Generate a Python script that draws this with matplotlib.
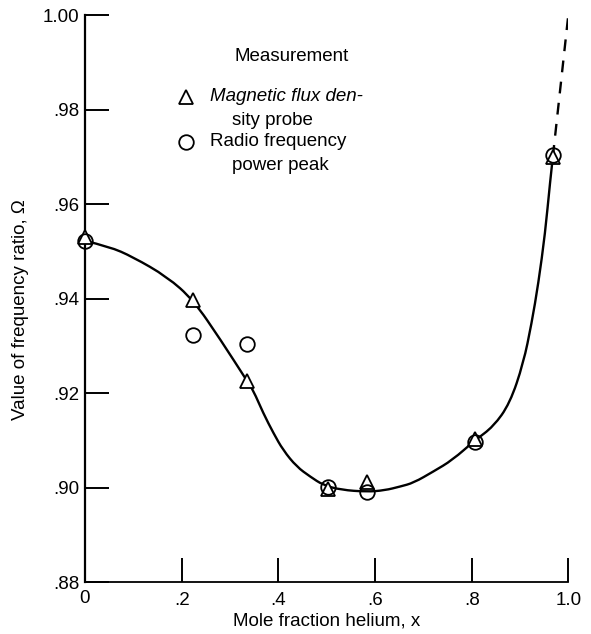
import matplotlib
matplotlib.use("Agg")
import matplotlib.pyplot as plt
from matplotlib.path import Path
from matplotlib.patches import PathPatch

plt.rcParams['font.family'] = ['Liberation Sans', 'DejaVu Sans']

# Measured points
x_tri = [0.0, 0.224, 0.335, 0.503, 0.583, 0.807, 0.968]
y_tri = [0.9530, 0.9397, 0.9226, 0.8997, 0.9012, 0.9102, 0.9700]
x_circ = [0.0, 0.223, 0.3345, 0.503, 0.583, 0.807, 0.968]
y_circ = [0.9522, 0.9323, 0.9304, 0.9002, 0.8991, 0.9097, 0.9704]

# Faired curve
x_curve = [0.0, 0.05, 0.099, 0.17, 0.224, 0.281, 0.335, 0.348, 0.369, 0.390,
           0.410, 0.438, 0.466, 0.493, 0.53, 0.583, 0.62, 0.652, 0.68, 0.721,
           0.76, 0.807, 0.845, 0.879, 0.907, 0.924, 0.938, 0.952, 0.962, 0.968]
y_curve = [0.9522, 0.9510, 0.9488, 0.9446, 0.9397, 0.9312, 0.9226, 0.9206, 0.9157, 0.9115,
           0.9079, 0.9044, 0.9023, 0.9005, 0.8995, 0.8991, 0.8994, 0.9002, 0.9010, 0.9034,
           0.9058, 0.9100, 0.9129, 0.9178, 0.9263, 0.9347, 0.9432, 0.9538, 0.9644, 0.9700]
# Extrapolated (dashed) portion
x_dash = [0.968, 1.0]
y_dash = [0.9700, 1.0]

x_ticks = [0.2, 0.4, 0.6, 0.8, 1.0]
x_ticklabels = ['.2', '.4', '.6', '.8', '1.0']
y_ticks = [0.88, 0.90, 0.92, 0.94, 0.96, 0.98, 1.00]
y_ticklabels = ['.88', '.90', '.92', '.94', '.96', '.98', '1.00']

FS = 13.5

fig = plt.figure(figsize=(5.91, 6.34), dpi=100)
ax = fig.add_axes([0.1438, 0.0820, 0.8178, 0.8943])

# smooth curve: quadratic Bezier path using the read points as control points
pts = list(zip(x_curve, y_curve))
verts = [pts[0]]
codes = [Path.MOVETO]
for i in range(1, len(pts) - 2):
    mid = ((pts[i][0] + pts[i + 1][0]) / 2, (pts[i][1] + pts[i + 1][1]) / 2)
    verts += [pts[i], mid]
    codes += [Path.CURVE3, Path.CURVE3]
verts += [pts[-2], pts[-1]]
codes += [Path.CURVE3, Path.CURVE3]
ax.add_patch(PathPatch(Path(verts, codes), fill=False, edgecolor='black',
                       lw=1.7, capstyle='round', joinstyle='round'))

ax.plot(x_dash, y_dash, color='black', lw=1.7, dashes=(5, 4))
ax.plot(x_tri, y_tri, linestyle='none', marker='^', ms=10, mfc='white',
        mec='black', mew=1.3, zorder=3, clip_on=False)
ax.plot(x_circ, y_circ, linestyle='none', marker='o', ms=10.5, mfc='none',
        mec='black', mew=1.3, zorder=4, clip_on=False)

ax.set_xlim(0, 1.0)
ax.set_ylim(0.88, 1.00)
ax.spines['top'].set_visible(False)
ax.spines['right'].set_visible(False)
ax.spines['left'].set_linewidth(1.6)
ax.spines['bottom'].set_linewidth(1.3)

ax.set_xticks(x_ticks)
ax.set_xticklabels(x_ticklabels)
ax.set_yticks(y_ticks)
ax.set_yticklabels(y_ticklabels)
ax.tick_params(axis='both', direction='in', length=17.5, width=1.4, labelsize=FS)
ax.tick_params(axis='x', pad=7)
ax.tick_params(axis='y', pad=4)

# "0" label at origin on x axis
ax.text(0.0, -0.014, '0', transform=ax.get_xaxis_transform(), ha='center',
        va='top', fontsize=FS)

ax.set_xlabel('Mole fraction helium, x', fontsize=FS, labelpad=3)
ax.set_ylabel('Value of frequency ratio, \u03a9', fontsize=FS)
ax.yaxis.set_label_coords(-0.116, 0.48)

# Legend drawn as text
ax.text(0.310, 0.9913, 'Measurement', fontsize=FS, ha='left', va='center')
ax.plot([0.210], [0.9827], linestyle='none', marker='^', ms=10, mfc='white',
        mec='black', mew=1.3)
ax.text(0.259, 0.9827, 'Magnetic flux den-', fontsize=FS, style='italic',
        ha='left', va='center')
ax.text(0.3035, 0.9776, 'sity probe', fontsize=FS, ha='left', va='center')
ax.plot([0.210], [0.9732], linestyle='none', marker='o', ms=10.5, mfc='none',
        mec='black', mew=1.3)
ax.text(0.259, 0.9732, 'Radio frequency', fontsize=FS, ha='left', va='center')
ax.text(0.3035, 0.9682, 'power peak', fontsize=FS, ha='left', va='center')

fig.savefig('out.png', dpi=100)
